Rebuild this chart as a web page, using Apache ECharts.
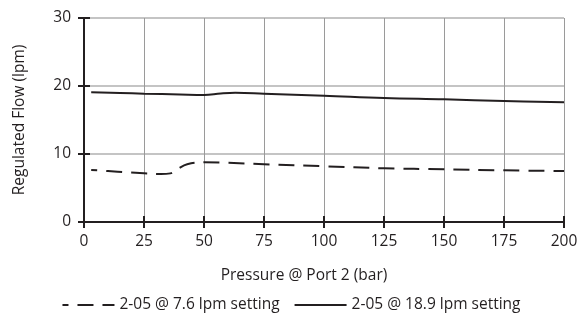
<!DOCTYPE html>
<html>
<head>
<meta charset="utf-8">
<script src="https://cdn.jsdelivr.net/npm/echarts@6/dist/echarts.min.js"></script>
<style>
  html, body { margin: 0; padding: 0; background: #fff; }
  #chart { width: 582px; height: 313px; }
</style>
</head>
<body>
<div id="chart"></div>
<script>
  // values
  const xTicks = [0, 25, 50, 75, 100, 125, 150, 175, 200]
  const yTicks = [0, 10, 20, 30]

  const lowPressure = [3, 10, 18, 25, 32, 36, 39, 43, 50, 60, 75, 100, 125, 150, 175, 200]
  const lowFlow = [7.65, 7.5, 7.3, 7.16, 7.05, 7.15, 7.8, 8.5, 8.78, 8.7, 8.5, 8.2, 7.9, 7.75, 7.6, 7.5]

  const highPressure = [3, 15, 25, 40, 50, 57, 63, 75, 100, 125, 150, 175, 200]
  const highFlow = [19.07, 18.98, 18.87, 18.75, 18.68, 18.9, 19.0, 18.87, 18.58, 18.24, 18.04, 17.8, 17.6]

  const seriesNames = ['2-05 @ 7.6 lpm setting', '2-05 @ 18.9 lpm setting']

  const zip = (xs, ys) => xs.map((x, i) => [x, ys[i]])

  const ink = '#231f20'
  const font = 'Open Sans'
  const fs = 15.5
  const plot = { left: 84, right: 18, top: 18, bottom: 91 }

  // second grid on top of the first one only carries the inward half of the ticks
  const innerTicks = { show: true, inside: true, length: 6, lineStyle: { color: ink, width: 2 } }

  const chart = echarts.init(document.getElementById('chart'))

  chart.setOption({
    animation: false,
    textStyle: { fontFamily: font, color: ink },
    grid: [plot, plot],
    legend: {
      top: 292,
      left: 'center',
      itemWidth: 52,
      itemHeight: 10,
      itemGap: 14,
      itemStyle: { opacity: 0 },
      textStyle: { fontFamily: font, fontSize: fs, color: ink },
      data: seriesNames
    },
    xAxis: [
      {
        type: 'value',
        min: xTicks[0],
        max: xTicks[xTicks.length - 1],
        interval: 25,
        name: 'Pressure @ Port 2 (bar)',
        nameLocation: 'middle',
        nameGap: 46,
        nameTextStyle: { fontSize: fs, color: ink, padding: [0, 40, 0, 0] },
        axisLine: { lineStyle: { color: ink, width: 2 } },
        axisTick: { length: 6, lineStyle: { color: ink, width: 2 } },
        axisLabel: { fontSize: fs, color: ink, margin: 12 },
        splitLine: { show: true, lineStyle: { color: '#9a9a9a', width: 1 } }
      },
      {
        type: 'value',
        gridIndex: 1,
        z: 5,
        min: xTicks[0],
        max: xTicks[xTicks.length - 1],
        interval: 25,
        position: 'bottom',
        axisLine: { show: true, lineStyle: { color: ink, width: 2 } },
        axisTick: { ...innerTicks },
        axisLabel: { show: false },
        splitLine: { show: false }
      }
    ],
    yAxis: [
      {
        type: 'value',
        min: yTicks[0],
        max: yTicks[yTicks.length - 1],
        interval: 10,
        name: 'Regulated Flow (lpm)',
        nameLocation: 'middle',
        nameGap: 56,
        nameTextStyle: { fontSize: fs, color: ink },
        axisLine: { show: true, lineStyle: { color: ink, width: 2 } },
        axisTick: { show: true, length: 6, lineStyle: { color: ink, width: 2 } },
        axisLabel: { fontSize: fs, color: ink, margin: 13 },
        splitLine: { show: true, lineStyle: { color: '#c4c4c4', width: 2 } }
      },
      {
        type: 'value',
        gridIndex: 1,
        z: 5,
        min: yTicks[0],
        max: yTicks[yTicks.length - 1],
        interval: 10,
        position: 'left',
        axisLine: { show: true, lineStyle: { color: ink, width: 2 } },
        axisTick: { ...innerTicks },
        axisLabel: { show: false },
        splitLine: { show: false }
      }
    ],
    series: [
      {
        name: seriesNames[0],
        type: 'line',
        data: zip(lowPressure, lowFlow),
        smooth: 0.4,
        symbol: 'none',
        lineStyle: { color: ink, width: 2, type: [16, 9], dashOffset: 10 },
        itemStyle: { color: ink }
      },
      {
        name: seriesNames[1],
        type: 'line',
        data: zip(highPressure, highFlow),
        smooth: 0.4,
        symbol: 'none',
        lineStyle: { color: ink, width: 2 },
        itemStyle: { color: ink }
      }
    ]
  })
</script>
</body>
</html>
